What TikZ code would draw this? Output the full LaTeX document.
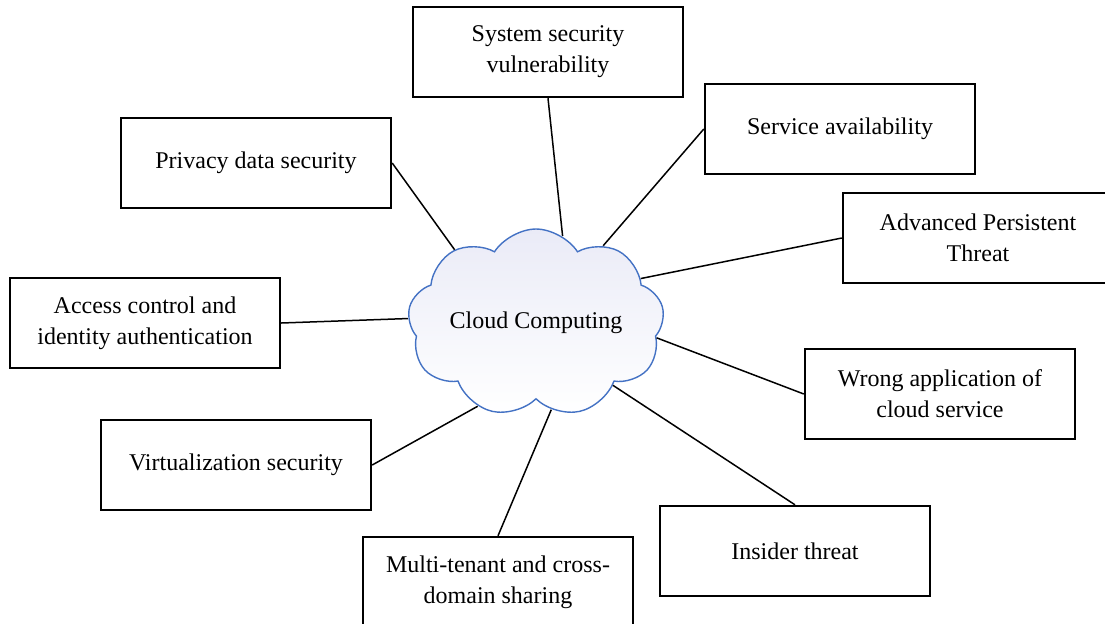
\documentclass[tikz,border=0pt]{standalone}
\usepackage{fontspec}
\setmainfont{Liberation Serif}
\usepackage{tikz}
\usetikzlibrary{shapes.symbols}
\definecolor{cloudblue}{RGB}{68,114,196}
\definecolor{cloudtint}{RGB}{234,235,247}

\begin{document}
\begin{tikzpicture}[x=0.5pt,y=-0.5pt,font=\fontsize{12}{15.5}\selectfont]
\tikzstyle{risk} = [rectangle, draw, line width=1.2pt, minimum width=135pt, minimum height=45pt, align=center, inner sep=2pt]
\tikzstyle{cloudy} = [cloud, cloud puffs=9, cloud puff arc=115, aspect=1.3, cloud ignores aspect, draw=cloudblue, line width=0.7pt, minimum width=120pt, minimum height=94pt, shading angle=45, top color=cloudtint, bottom color=white]
\useasboundingbox (0,0) rectangle (1105,623);
\node[cloudy] (CC) at (536,323) {Cloud Computing};
\node[risk] (SSV) at (548,52) {System security\\vulnerability};
\node[risk] (SA) at (840,129) {Service availability};
\node[risk] (PDS) at (256,163) {Privacy data security};
\node[risk] (APT) at (978,238) {Advanced Persistent\\Threat};
\node[risk] (ACI) at (145,323) {Access control and\\identity authentication};
\node[risk] (WAC) at (940,394) {Wrong application of\\cloud service};
\node[risk] (VS) at (236,465) {Virtualization security};
\node[risk] (IT) at (795,551) {Insider threat};
\node[risk] (MCS) at (498,582) {Multi-tenant and cross-\\domain sharing};
\path[line width=0.75pt] (CC.73) edge (SSV.south)
          (CC.49) edge (SA.west)
          (CC.138) edge (PDS.east)
          (CC.23) edge (APT.west)
          (CC.178) edge (ACI.east)
          (CC.-7) edge (WAC.west)
          (CC.-125) edge (VS.east)
          (CC.-39) edge (IT.north)
          (CC.-80) edge (MCS.north);
\end{tikzpicture}
\end{document}
